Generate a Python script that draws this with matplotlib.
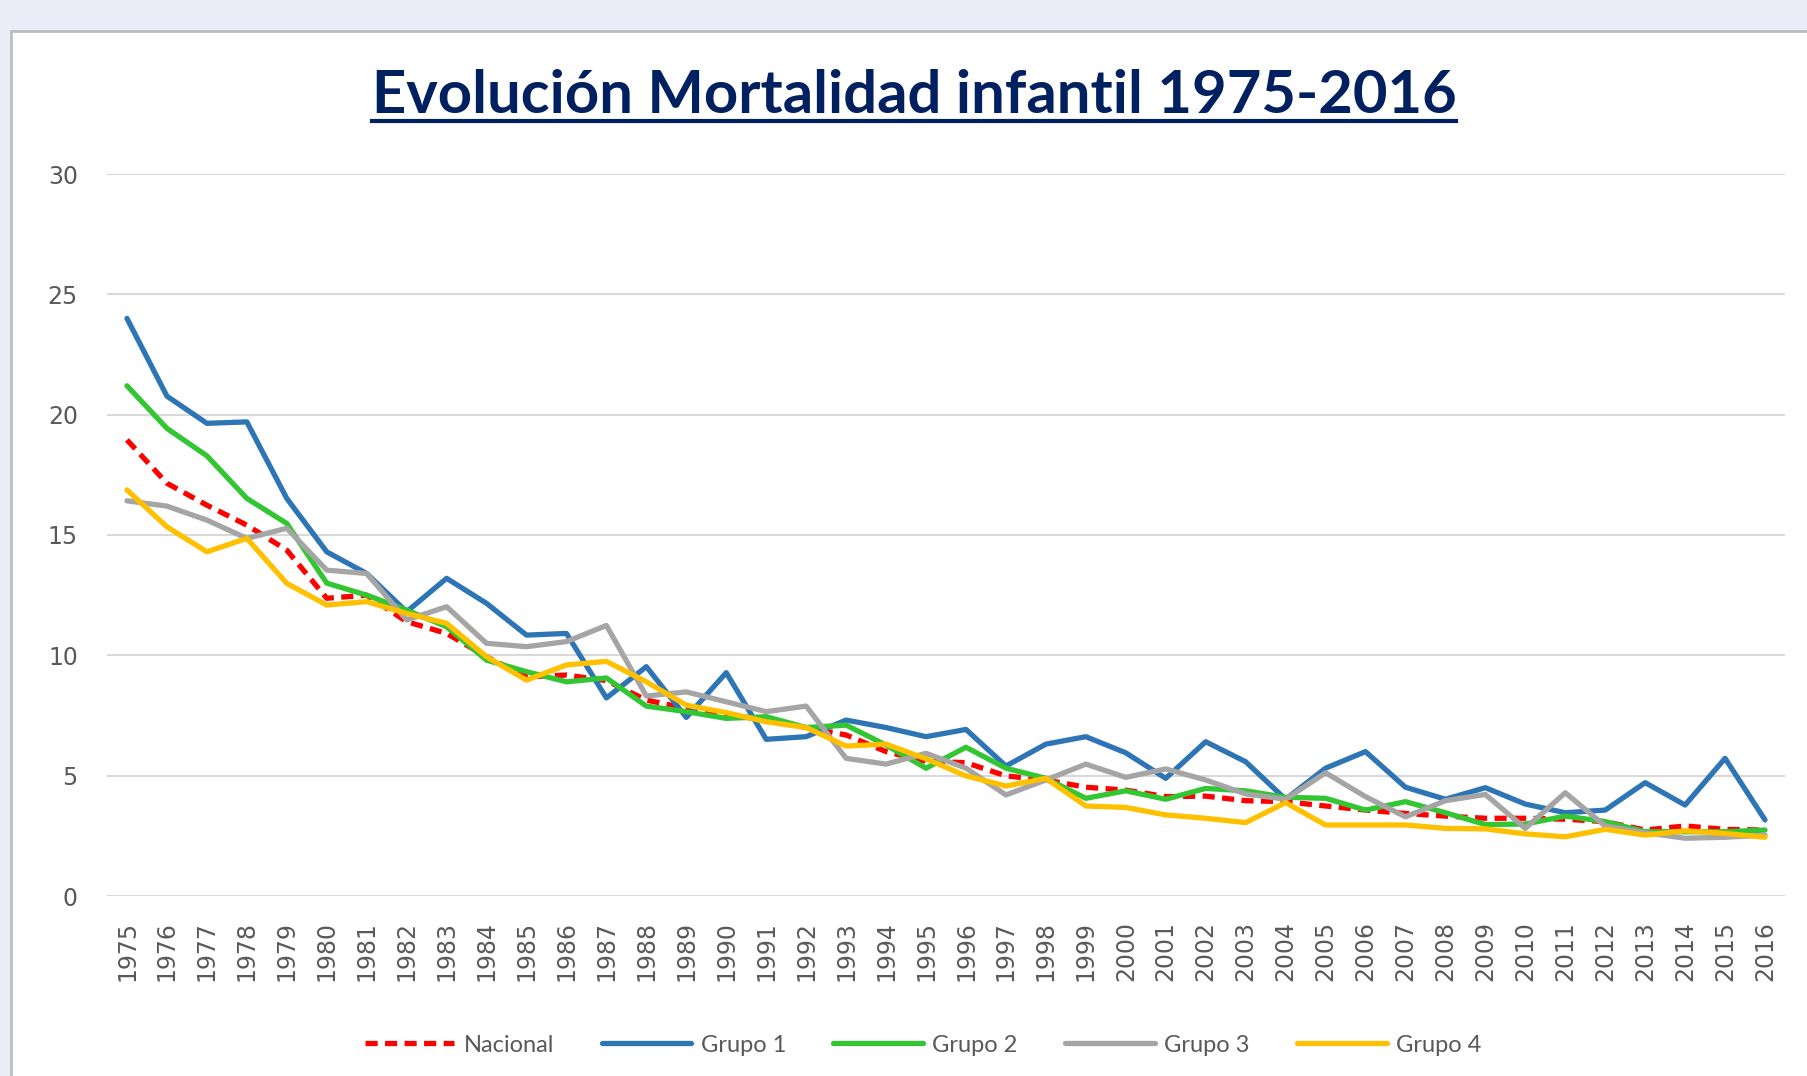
import matplotlib
matplotlib.use("Agg")
import matplotlib.pyplot as plt
from matplotlib.patches import Rectangle
from matplotlib.lines import Line2D

years = [str(y) for y in range(1975, 2017)]

nacional = [18.95, 17.15, 16.24, 15.41, 14.37, 12.37, 12.5, 11.4, 10.91, 9.94,
            9.11, 9.18, 8.95, 8.14, 7.8, 7.55, 7.3, 7.0, 6.69, 6.0,
            5.6, 5.54, 4.99, 4.82, 4.52, 4.4, 4.13, 4.15, 3.96, 3.92,
            3.74, 3.57, 3.43, 3.32, 3.23, 3.23, 3.19, 3.09, 2.74, 2.91,
            2.77, 2.74]
grupo1 = [24.0, 20.77, 19.64, 19.7, 16.52, 14.3, 13.4, 11.81, 13.2, 12.16,
          10.84, 10.91, 8.23, 9.53, 7.42, 9.28, 6.51, 6.62, 7.31, 7.0,
          6.62, 6.92, 5.4, 6.31, 6.62, 5.95, 4.89, 6.41, 5.58, 4.02,
          5.31, 6.0, 4.52, 4.02, 4.5, 3.82, 3.46, 3.57, 4.71, 3.78,
          5.72, 3.16]
grupo2 = [21.2, 19.43, 18.29, 16.52, 15.48, 13.0, 12.5, 11.88, 11.19, 9.8,
          9.32, 8.9, 9.06, 7.89, 7.66, 7.38, 7.45, 7.0, 7.1, 6.27,
          5.31, 6.18, 5.31, 4.89, 4.06, 4.37, 4.02, 4.47, 4.37, 4.1,
          4.06, 3.57, 3.92, 3.46, 2.97, 2.99, 3.32, 3.09, 2.67, 2.67,
          2.67, 2.74]
grupo3 = [16.42, 16.2, 15.62, 14.86, 15.28, 13.54, 13.4, 11.47, 12.02, 10.5,
          10.36, 10.57, 11.24, 8.31, 8.48, 8.07, 7.66, 7.89, 5.72, 5.48,
          5.93, 5.31, 4.2, 4.82, 5.48, 4.93, 5.28, 4.82, 4.24, 4.02,
          5.12, 4.13, 3.29, 3.96, 4.22, 2.81, 4.29, 2.91, 2.63, 2.4,
          2.44, 2.53]
grupo4 = [16.87, 15.34, 14.3, 14.86, 12.99, 12.09, 12.23, 11.74, 11.33, 9.94,
          8.97, 9.6, 9.75, 8.9, 7.93, 7.62, 7.24, 7.0, 6.23, 6.31,
          5.7, 4.99, 4.57, 4.89, 3.74, 3.68, 3.37, 3.23, 3.05, 3.88,
          2.95, 2.95, 2.95, 2.81, 2.79, 2.58, 2.46, 2.77, 2.53, 2.71,
          2.6, 2.44]

series = [
    ("Nacional", nacional, "#FF0000", "--"),
    ("Grupo 1", grupo1, "#2E75B6", "-"),
    ("Grupo 2", grupo2, "#33C633", "-"),
    ("Grupo 3", grupo3, "#A5A5A5", "-"),
    ("Grupo 4", grupo4, "#FFC000", "-"),
]
yticks = [0, 5, 10, 15, 20, 25, 30]

W, H = 1808, 1076
fig = plt.figure(figsize=(W / 100, H / 100), dpi=100, facecolor="#ECECF8")

# white chart panel
fig.add_artist(Rectangle((11 / W, -0.01), 1.0, (H - 31) / H + 0.01,
                         transform=fig.transFigure, facecolor="white",
                         edgecolor="#BDBDBD", linewidth=2, zorder=0))

ax = fig.add_axes([107 / W, 180 / H, (1785 - 107) / W, (902 - 180) / H])
ax.set_facecolor("none")
x = list(range(len(years)))
for name, vals, color, ls in series:
    ln, = ax.plot(x, vals, color=color, linewidth=3.8, label=name,
                  solid_joinstyle="round", solid_capstyle="round")
    if ls == "--":
        ln.set_linestyle((0, (2.3, 1.4)))
        ln.set_dash_capstyle("butt")

ax.set_xlim(-0.5, len(years) - 0.5)
ax.set_ylim(0, 30)
ax.set_yticks(yticks)
ax.set_yticklabels([str(v) for v in yticks], fontsize=17, color="#595959")
ax.set_xticks(x)
ax.set_xticklabels(years, rotation=90, fontsize=17, color="#595959")
ax.tick_params(axis="both", length=0)
ax.tick_params(axis="y", pad=21)
ax.tick_params(axis="x", pad=18)
ax.grid(axis="y", color="#D9D9D9", linewidth=1.5)
ax.set_axisbelow(True)
for s in ax.spines.values():
    s.set_visible(False)

# title with underline
t = fig.text(914 / W, (H - 96) / H, "Evolución Mortalidad infantil 1975-2016",
             ha="center", va="center", fontsize=43, fontweight="bold",
             color="#002060", family="Lato")
fig.canvas.draw()
bb = t.get_window_extent()
fig.add_artist(Line2D([bb.x0 / W, bb.x1 / W], [(H - 121) / H, (H - 121) / H],
                      transform=fig.transFigure, color="#002060", linewidth=3))

leg = fig.legend(loc="center", bbox_to_anchor=(923 / W, (H - 1045) / H),
                 ncol=5, frameon=False, handlelength=3.8, columnspacing=2.0,
                 handletextpad=0.4,
                 prop={"family": "Lato", "size": 17})
for txt in leg.get_texts():
    txt.set_color("#595959")

fig.savefig("out.png", dpi=100, facecolor=fig.get_facecolor())
